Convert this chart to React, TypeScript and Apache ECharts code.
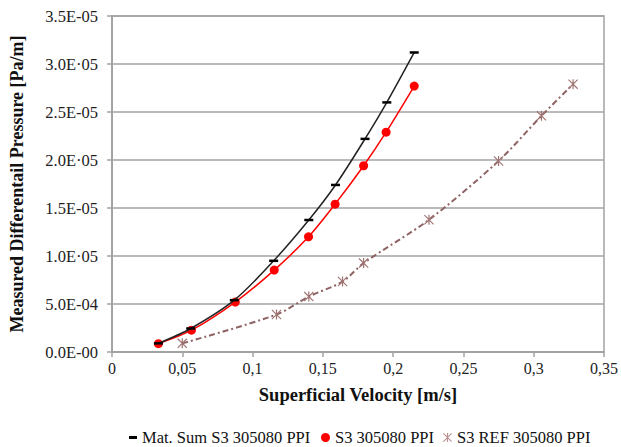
import React, { useEffect, useRef } from "react";
import * as echarts from "echarts";

const xTickLabels = ["0", "0,05", "0,1", "0,15", "0,2", "0,25", "0,3", "0,35"];
const yTickLabels = ["0.0E-00", "5.0E-04", "1.0E·05", "1.5E-05", "2.0E·05", "2.5E-05", "3.0E·05", "3.5E-05"];

const nameMat = "Mat. Sum S3 305080 PPI";
const nameS3 = "S3 305080 PPI";
const nameRef = "S3 REF 305080 PPI";

const velMat = [0.033, 0.056, 0.087, 0.115, 0.14, 0.159, 0.18, 0.1955, 0.215];
const dpMat = [0.09, 0.245, 0.54, 0.95, 1.375, 1.74, 2.22, 2.6, 3.12];

const velS3 = [0.033, 0.0565, 0.0877, 0.1154, 0.1398, 0.1587, 0.179, 0.195, 0.215];
const dpS3 = [0.087, 0.227, 0.52, 0.853, 1.2, 1.54, 1.94, 2.29, 2.77];

const velRef = [0.05, 0.117, 0.14, 0.164, 0.179, 0.2255, 0.275, 0.3055, 0.328];
const dpRef = [0.09, 0.39, 0.577, 0.734, 0.926, 1.378, 1.99, 2.46, 2.79];

const FONT = "'Liberation Serif', 'Times New Roman', serif";
const GREY = "#a3a3a3";
const RED = "#ff0000";
const BROWN = "#8f6363";
const STAR =
  "path://M4.4,0 L5.6,0 L5.6,10 L4.4,10 Z M0,0.8 L0.8,0 L10,9.2 L9.2,10 Z M9.2,0 L10,0.8 L0.8,10 L0,9.2 Z";

const zip = (xs: number[], ys: number[]) => xs.map((x, i) => [x, ys[i]]);

export default function App() {
  const ref = useRef<HTMLDivElement>(null);
  useEffect(() => {
    if (!ref.current) return;
    const chart = echarts.init(ref.current, null, { renderer: "svg" });
    const legendText = { fontFamily: FONT, fontSize: 16.5, color: "#111" };
    chart.setOption({
      animation: false,
      backgroundColor: "#fff",
      grid: {
        left: 112,
        right: 16,
        top: 16,
        bottom: 95,
        show: true,
        borderColor: GREY,
        borderWidth: 1.5,
      },
      xAxis: {
        type: "value",
        min: 0,
        max: 0.35,
        interval: 0.05,
        name: "Superficial Velocity [m/s]",
        nameLocation: "middle",
        nameGap: 33,
        nameTextStyle: { fontFamily: FONT, fontSize: 18.5, fontWeight: "bold", color: "#111" },
        axisLine: { lineStyle: { color: GREY, width: 2 } },
        axisTick: { show: true, length: 5, lineStyle: { color: GREY, width: 1.5 } },
        splitLine: { show: false },
        axisLabel: {
          fontFamily: FONT,
          fontSize: 16,
          color: "#222",
          margin: 8,
          formatter: (v: number) => xTickLabels[Math.round(v / 0.05)] ?? "",
        },
      },
      yAxis: {
        type: "value",
        min: 0,
        max: 3.5,
        interval: 0.5,
        name: "Measured Differentail Pressure [Pa/m]",
        nameLocation: "middle",
        nameGap: 86,
        nameTextStyle: { fontFamily: FONT, fontSize: 18, fontWeight: "bold", color: "#111" },
        axisLine: { show: true, lineStyle: { color: GREY, width: 2 } },
        axisTick: { show: true, length: 5, lineStyle: { color: GREY, width: 1.5 } },
        splitLine: { show: true, lineStyle: { color: GREY, width: 1.5 } },
        axisLabel: {
          fontFamily: FONT,
          fontSize: 16.5,
          color: "#222",
          margin: 14,
          formatter: (v: number) => yTickLabels[Math.round(v / 0.5)] ?? "",
        },
      },
      legend: [
        {
          data: [{ name: nameMat, icon: "rect" }],
          left: 129,
          top: 429,
          itemWidth: 8,
          itemHeight: 3,
          itemStyle: { color: "#000" },
          textStyle: legendText,
          padding: 0,
        },
        {
          data: [{ name: nameS3, icon: "circle" }],
          left: 321,
          top: 429,
          itemWidth: 9,
          itemHeight: 9,
          textStyle: legendText,
          padding: 0,
        },
        {
          data: [{ name: nameRef, icon: STAR }],
          left: 443,
          top: 429,
          itemWidth: 9,
          itemHeight: 9,
          itemStyle: { color: "#b98e8e" },
          textStyle: legendText,
          padding: 0,
        },
      ],
      series: [
        {
          name: nameRef,
          type: "line",
          data: zip(velRef, dpRef),
          smooth: 0.3,
          symbol: STAR,
          symbolSize: 10,
          itemStyle: { color: "#a07373" },
          lineStyle: { color: BROWN, width: 2, type: [6, 3, 2, 3] },
          z: 2,
        },
        {
          name: nameS3,
          type: "line",
          data: zip(velS3, dpS3),
          smooth: 0.3,
          symbol: "circle",
          symbolSize: 9,
          itemStyle: { color: RED },
          lineStyle: { color: RED, width: 1.5 },
          z: 3,
        },
        {
          name: nameMat,
          type: "line",
          data: zip(velMat, dpMat),
          smooth: 0.3,
          symbol: "rect",
          symbolSize: [9, 2.5],
          itemStyle: { color: "#000" },
          lineStyle: { color: "#222", width: 1.5 },
          z: 4,
        },
      ],
    });
    return () => chart.dispose();
  }, []);
  return (
    <div
      ref={ref}
      style={{ position: "fixed", left: 0, top: 0, width: 621, height: 447, background: "#fff" }}
    />
  );
}
